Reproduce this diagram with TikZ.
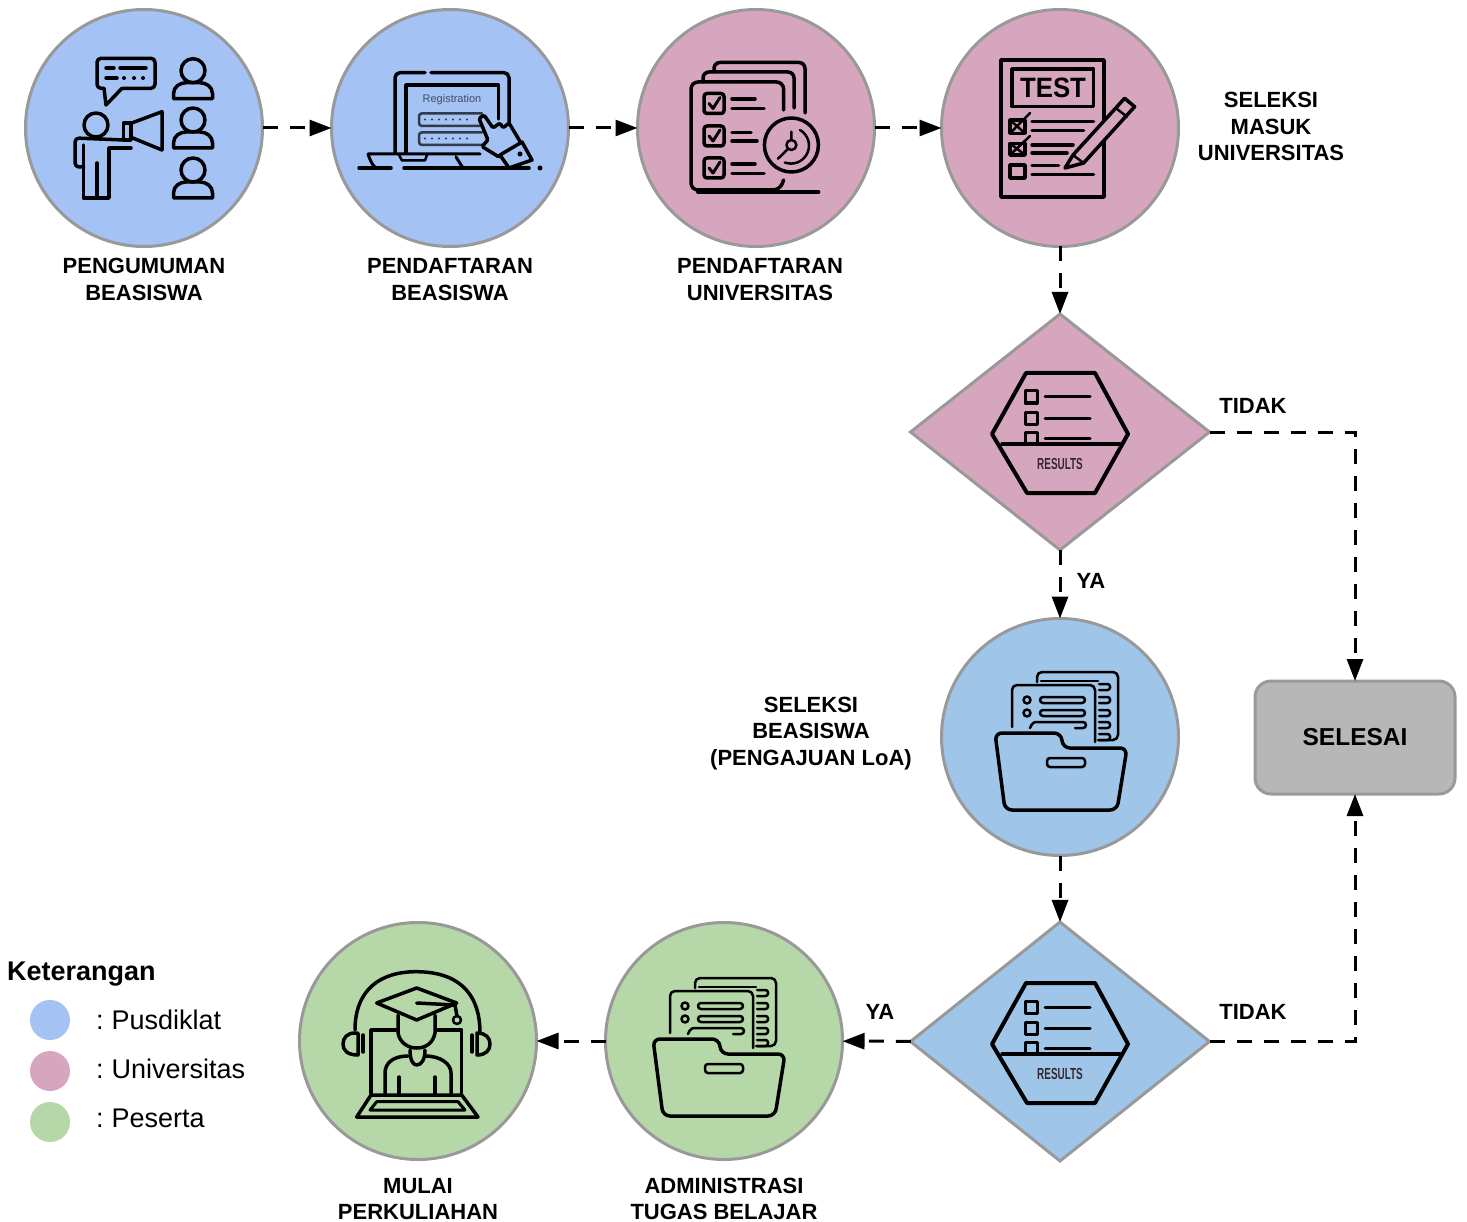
\documentclass[tikz,border=0pt]{standalone}
\usepackage{fontspec}
\usepackage{tikz}
\usepackage{xcolor}
\usetikzlibrary{arrows.meta,shapes.geometric}
\setmainfont{Liberation Sans}
\definecolor{pusdiklat}{HTML}{A4C2F4}
\definecolor{seleksi}{HTML}{9FC5E8}
\definecolor{univ}{HTML}{D5A6BD}
\definecolor{peserta}{HTML}{B6D7A8}
\definecolor{garis}{HTML}{999999}
\definecolor{kotak}{HTML}{B7B7B7}
\tikzset{
  tahap/.style={draw=garis,line width=3pt,circle,minimum size=237pt,inner sep=0pt,outer sep=0pt},
  putusan/.style={draw=garis,line width=3pt,diamond,aspect=1.28,minimum width=299pt,minimum height=236pt,inner sep=0pt,outer sep=0pt},
  titik/.style={circle,minimum size=40pt,inner sep=0pt},
  flow/.style={line width=3pt,dash pattern=on 15pt off 12pt,-{Triangle[length=22pt,width=16pt]}},
  label/.style={font=\fontsize{22}{26.5}\selectfont\bfseries,align=center,inner sep=0pt},
  ket/.style={font=\fontsize{27}{31}\selectfont,anchor=west,inner sep=0pt},
  icon/.style={line width=3.5pt,line join=round,line cap=round},
  thin icon/.style={line width=2.5pt,line join=round,line cap=round},
  personicon/.pic={
    \draw[icon] (0,0) circle[radius=12pt];
    \draw[icon] (-19.5,28) -- (-19.5,23) .. controls (-19.5,16) and (-13,12) .. (-7,12) -- (7,12) .. controls (13,12) and (19.5,16) .. (19.5,23) -- (19.5,28) -- cycle;
  },
  resultsicon/.pic={
    \draw[icon,line width=4pt] (-34,-59) -- (35,-59) -- (68,2) -- (35,61) -- (-33,61) -- (-68,2) -- cycle;
    \draw[icon] (-58,12) -- (60,12);
    \draw[icon,line width=3pt] (-35,-41) rectangle (-23,-29) (-35,-20) rectangle (-23,-8) (-35,12) -- (-35,0) -- (-23,0) -- (-23,12);
    \draw[icon,line width=3pt] (-15,-35) -- (30,-35) (-15,-14) -- (30,-14) (-15,6) -- (30,6);
    \node[font=\fontsize{16}{16}\selectfont\bfseries,xscale=.62,text=black!75!univ,inner sep=0pt] at (0,32) {RESULTS};
  },
  foldericon/.pic={
    \draw[thin icon,rounded corners=5pt] (-48,-10) -- (-48,-52) -- (35,-52) -- (35,5) (-23,-55) -- (-23,-65) -- (58,-65) -- (58,3) -- (38,3);
    \draw[thin icon] (-19,-56) -- (38,-56);
    \foreach \b in {-50,-37,-24,-12,0} {
      \draw[thin icon,rounded corners=2.5pt] (39,\b-3) -- (50,\b-3) -- (50,\b+3) -- (39,\b+3);
    }
    \draw[thin icon] (-33,-37) circle[radius=3.5pt] (-33,-24) circle[radius=3.5pt];
    \draw[thin icon,rounded corners=3pt] (-20,-40) rectangle (25,-34) (-20,-27) rectangle (25,-21) (-30,-9) -- (-27,-15) -- (26,-15) -- (26,-9) -- (15,-9);
    \draw[icon,rounded corners=7pt] (-65,-4) -- (1,-4) -- (3,11) -- (67,11) -- (57,73) -- (-55,73) -- cycle;
    \draw[thin icon,rounded corners=3pt] (-13,21) rectangle (25,30);
  }
}
\begin{document}
\begin{tikzpicture}[x=1pt,y=-1pt]
\useasboundingbox (0,0) rectangle (1467,1222);
\node[tahap,fill=pusdiklat] (n1) at (144,128) {};
\node[tahap,fill=pusdiklat] (n2) at (450,128) {};
\node[tahap,fill=univ] (n3) at (756,128) {};
\node[tahap,fill=univ] (n4) at (1060,128) {};
\node[putusan,fill=univ] (n5) at (1060,432) {};
\node[tahap,fill=seleksi] (n6) at (1060,737) {};
\node[putusan,fill=seleksi,minimum height=239pt] (n7) at (1060,1041.5) {};
\node[tahap,fill=peserta] (n8) at (724,1041) {};
\node[tahap,fill=peserta] (n9) at (418,1041) {};
\node[draw=garis,fill=kotak,line width=3pt,rounded corners=16pt,minimum width=200pt,minimum height=113pt,inner sep=0pt,outer sep=0pt,font=\fontsize{24.5}{28}\selectfont\bfseries] (n10) at (1355,737.5) {SELESAI};

\draw[flow] (n1) -- (n2);
\draw[flow] (n2) -- (n3);
\draw[flow] (n3) -- (n4);
\draw[flow] (n4) -- (n5);
\draw[flow] (n5) -- (n6);
\draw[flow] (n6) -- (n7);
\draw[flow] (n7) -- (n8);
\draw[flow] (n8) -- (n9);
\draw[flow] (n5.east) -| (n10.north);
\draw[flow] (n7.east) -| (n10.south);

\node[label] (l1) at (144,279.5) {PENGUMUMAN\\BEASISWA};
\node[label] (l2) at (450,279.5) {PENDAFTARAN\\BEASISWA};
\node[label] (l3) at (760,279.5) {PENDAFTARAN\\UNIVERSITAS};
\node[label] (l4) at (1271,126.5) {SELEKSI\\MASUK\\UNIVERSITAS};
\node[label] (l5) at (811,733.5) {SELEKSI\\BEASISWA\\(PENGAJUAN LoA)};
\node[label,text depth=0pt] (l6) at (418,1198.8) {MULAI\\PERKULIAHAN};
\node[label,text depth=0pt] (l7) at (724,1198.8) {ADMINISTRASI\\TUGAS BELAJAR};
\node[label] (t1) at (1253,406) {TIDAK};
\node[label] (y1) at (1091,581) {YA};
\node[label] (t2) at (1253,1012) {TIDAK};
\node[label] (y2) at (880,1012) {YA};

\node[ket,font=\fontsize{27}{31}\selectfont\bfseries] (k0) at (7,974) {Keterangan};
\node[titik,fill=pusdiklat] (k1) at (50,1020) {};
\node[titik,fill=univ] (k2) at (50,1071) {};
\node[titik,fill=peserta] (k3) at (50,1122) {};
\node[ket] (kt1) at (96,1020) {:\hspace{-2pt} Pusdiklat};
\node[ket] (kt2) at (96,1069) {:\hspace{-2pt} Universitas};
\node[ket] (kt3) at (96,1118) {:\hspace{-2pt} Peserta};

\draw[icon,rounded corners=4pt] (104,88.3) -- (97,88.3) -- (97,58.3) -- (155,58.3) -- (155,88.3) -- (122,88.3);
\draw[icon] (104,88.3) -- (106,105) -- (122,88.3);
\draw[icon] (106,68) -- (114,68) (120,68) -- (146,68) (106,78) -- (117,78);
\fill (124,78) circle[radius=2pt] (134,78) circle[radius=2pt] (143,78) circle[radius=2pt];
\pic at (193,70.7) {personicon};
\pic at (193,120) {personicon};
\pic at (193,170) {personicon};
\draw[icon] (96,125) circle[radius=12pt];
\draw[icon,rounded corners=4pt] (83.6,167) -- (75,167) -- (75,138) -- (123.6,140);
\draw[icon] (83.6,145) -- (83.6,198) -- (109,198) -- (109,148) -- (131,148);
\draw[icon] (97,163) -- (97,198);
\draw[icon] (123.6,123) rectangle (131,140);
\draw[icon] (131,123.3) -- (162,111.7) -- (162,150) -- (131,137.3);

\draw[icon,rounded corners=5pt] (425,72.7) -- (395,72.7) -- (395,153);
\draw[icon,rounded corners=5pt] (431,72.7) -- (509,72.7) -- (509,123);
\draw[icon] (406,153) -- (406,85) -- (498.6,85) -- (498.6,119);
\draw[icon] (359,168) -- (391,168) (404,168) -- (529,168);
\fill (540,168) circle[radius=2.5pt];
\draw[icon,line width=3pt] (368,154) -- (480,154) (368,154) .. controls (370,160) and (372,165) .. (376,168) (456,157) -- (463,168);
\draw[thin icon] (399,155) -- (402,160.5) -- (425,160.5) -- (427,155);
\node[font=\fontsize{11}{11}\selectfont,text=black!60!pusdiklat,inner sep=0pt] (r1) at (452,100) {Registration};
\draw[thin icon,black!70!pusdiklat,rounded corners=3pt] (482,113.3) -- (419,113.3) -- (419,126) -- (482,126) (482,132.3) -- (419,132.3) -- (419,145) -- (482,145);
\foreach \i in {0,...,6} {
  \fill[black!70!pusdiklat] (425+7*\i,119.5) circle[radius=1.2pt] (425+7*\i,138.5) circle[radius=1.2pt];
}
\draw[icon,fill=pusdiklat,rounded corners=1.5pt] (479,118.5) -- (484,115) -- (493,128) -- (500,123) -- (503,128) -- (509,123) -- (518,138) -- (522,145) -- (499,157) -- (482,146.5) -- (488,140) -- cycle;
\draw[icon,fill=pusdiklat] (522,142) -- (532,160) -- (509,168) -- (500,155) -- cycle;
\fill (520,154) circle[radius=2.5pt];

\draw[icon,rounded corners=6pt] (805,113) -- (805,62.5) -- (714,62.5) -- (714,72);
\draw[icon,rounded corners=6pt] (794,108) -- (794,72) -- (703,72) -- (703,82);
\draw[icon,rounded corners=7pt] (783.6,110) -- (783.6,82) -- (691,82) -- (691,190) -- (780,190) -- (783.6,180);
\draw[icon,line width=4pt] (698,192) -- (780,192);
\draw[icon] (780,192) -- (818.6,192);
\foreach \cy in {103.5,136,168} {
  \draw[icon,rounded corners=3pt] (704,\cy-10) rectangle (724,\cy+10);
  \draw[icon,line width=3pt] (709,\cy) -- (713,\cy+5) -- (720,\cy-6);
}
\draw[icon] (732,99) -- (755,99) (732,108.5) -- (764,108.5) (732,132.5) -- (751,132.5) (732,141) -- (757,141) (732,164) -- (755,164) (732,173.5) -- (764,173.5);
\draw[icon,fill=univ] (791.4,145) circle[radius=27pt];
\draw[thin icon] (800,130) arc[start angle=60,end angle=-110,radius=18pt];
\draw[thin icon] (791.4,145) circle[radius=5pt] (788,149) -- (778,158.7) (791.4,140) -- (791.4,131.7);

\draw[icon] (1001,60) rectangle (1104,197);
\draw[icon] (1012,69) rectangle (1093.6,106.7);
\node[font=\fontsize{28}{28}\selectfont\bfseries,xscale=.92,inner sep=0pt] (r2) at (1053,87.5) {TEST};
\draw[icon] (1010,120) rectangle (1025,133.3) (1010,143.3) rectangle (1025,155) (1010,165) rectangle (1025,178);
\draw[thin icon] (1010,120) -- (1025,133.3) (1010,133.3) -- (1030,113) (1010,143.3) -- (1025,155) (1010,155) -- (1030,136);
\draw[icon] (1032,121.7) -- (1093.6,121.7) (1032,130.7) -- (1083.6,130.7) (1032,145) -- (1073,145) (1032,153) -- (1067,153) (1032,165.7) -- (1058.6,165.7) (1032,174.5) -- (1093.6,174.5);
\draw[icon,fill=univ] (1065,168) -- (1073,155) -- (1124.6,98.3) -- (1134.6,106.7) -- (1083.6,163) -- cycle;
\draw[thin icon] (1115.7,108) -- (1127,116.7) (1073,155) -- (1083.6,163);

\pic at (1060,432) {resultsicon};
\pic at (1060,1042) {resultsicon};
\pic at (1060,737) {foldericon};
\pic at (718,1043) {foldericon};

\draw[icon] (355,1030) .. controls (355,990) and (380,971.7) .. (416,971.7) .. controls (455,971.7) and (480,990) .. (480,1033);
\draw[icon] (355,1033) .. controls (347,1033) and (343,1038) .. (343,1044) .. controls (343,1050) and (347,1055) .. (358,1055) -- (358,1033) -- cycle;
\draw[icon] (477,1033) .. controls (486,1033) and (490,1038) .. (490,1044) .. controls (490,1050) and (486,1055) .. (477,1055) -- cycle;
\draw[icon] (363,1035) -- (363,1052) (472,1035) -- (472,1052);
\draw[icon] (396,1030) -- (371,1030) -- (371,1093) (438,1030) -- (461.7,1030) -- (461.7,1093);
\draw[icon] (371,1095) -- (461.7,1095) -- (478,1117) -- (356.7,1117) -- cycle;
\draw[icon,line width=3pt] (376.7,1101.7) -- (458,1101.7) -- (465,1110) -- (370,1110) -- cycle;
\draw[icon] (416.7,988) -- (456.7,1003) -- (416.7,1020) -- (376.7,1003) -- cycle;
\draw[icon] (416.7,1003) -- (455,1005) -- (457,1016);
\draw[thin icon] (457,1020) circle[radius=4pt];
\draw[icon] (398,1015) -- (398,1033) .. controls (400,1043) and (408,1048) .. (416.7,1048) .. controls (426,1048) and (433,1043) .. (435,1033) -- (435,1015);
\draw[icon] (410,1050) .. controls (410,1060) and (413,1065) .. (416.7,1065) .. controls (421,1065) and (425,1060) .. (425,1050);
\draw[icon] (385,1093) -- (385,1073) .. controls (385,1064) and (392,1056) .. (408,1056) (425,1056) .. controls (441,1056) and (451,1064) .. (451,1073) -- (451,1093);
\draw[icon] (399,1077) -- (399,1093) (435,1077) -- (435,1093);
\end{tikzpicture}
\end{document}
